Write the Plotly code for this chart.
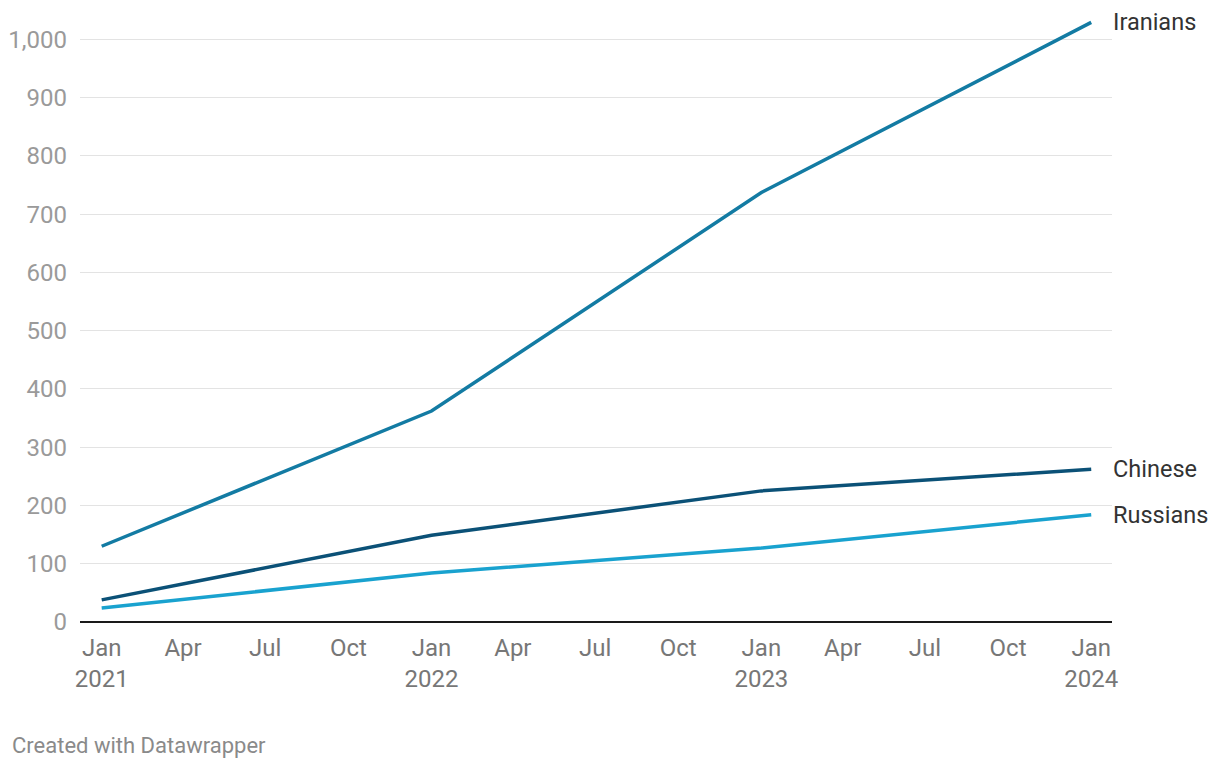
import plotly.graph_objects as go

dates = ["2021-01-01", "2022-01-01", "2023-01-01", "2024-01-01"]
iranians = [130, 362, 737, 1029]
chinese = [38, 149, 225, 262]
russians = [24, 84, 127, 184]

series_names = ["Iranians", "Chinese", "Russians"]
series_values = [iranians, chinese, russians]
series_colors = ["#137ba3", "#0b5177", "#19a2cf"]

x_tickvals = ["2021-01-01", "2021-04-01", "2021-07-01", "2021-10-01",
              "2022-01-01", "2022-04-01", "2022-07-01", "2022-10-01",
              "2023-01-01", "2023-04-01", "2023-07-01", "2023-10-01",
              "2024-01-01"]
x_ticktext = ["Jan<br>2021", "Apr", "Jul", "Oct",
              "Jan<br>2022", "Apr", "Jul", "Oct",
              "Jan<br>2023", "Apr", "Jul", "Oct",
              "Jan<br>2024"]
y_tickvals = [0, 100, 200, 300, 400, 500, 600, 700, 800, 900, 1000]
y_ticktext = ["0", "100", "200", "300", "400", "500", "600", "700", "800", "900", "1,000"]

fig = go.Figure()
for name, vals, col in zip(series_names, series_values, series_colors):
    fig.add_trace(go.Scatter(x=dates, y=vals, mode="lines", name=name,
                             line=dict(color=col, width=3.5), showlegend=False))
    fig.add_annotation(x=dates[-1], y=vals[-1], text=name, showarrow=False,
                       xanchor="left", yanchor="middle", xshift=20,
                       font=dict(family="Roboto", size=23.5, color="#333333"))

fig.add_annotation(xref="paper", yref="paper", x=-70/1032, y=-123/606,
                   text="Created with Datawrapper", showarrow=False,
                   xanchor="left", yanchor="middle",
                   font=dict(family="Roboto", size=22, color="#8a8a8a"))

fig.update_layout(
    width=1212, height=760,
    margin=dict(l=72, r=108, t=8, b=146),
    plot_bgcolor="white", paper_bgcolor="white",
    font=dict(family="Roboto"),
)
fig.update_xaxes(type="date", range=["2020-12-08", "2024-01-24"],
                 tickvals=x_tickvals, ticktext=x_ticktext,
                 showgrid=False, showline=False, zeroline=False,
                 ticks="", ticklabelstandoff=9, automargin=False,
                 tickfont=dict(family="Roboto", size=24, color="#777777"))
fig.update_yaxes(range=[0, 1040], tickvals=y_tickvals, ticktext=y_ticktext,
                 showgrid=True, gridcolor="#e3e3e3", gridwidth=1,
                 zeroline=True, zerolinecolor="#1a1a1a", zerolinewidth=2,
                 showline=False, ticks="", ticklabelstandoff=12, automargin=False,
                 tickfont=dict(family="Roboto", size=24, color="#9a9a9a"))

fig.write_html("out.html")
